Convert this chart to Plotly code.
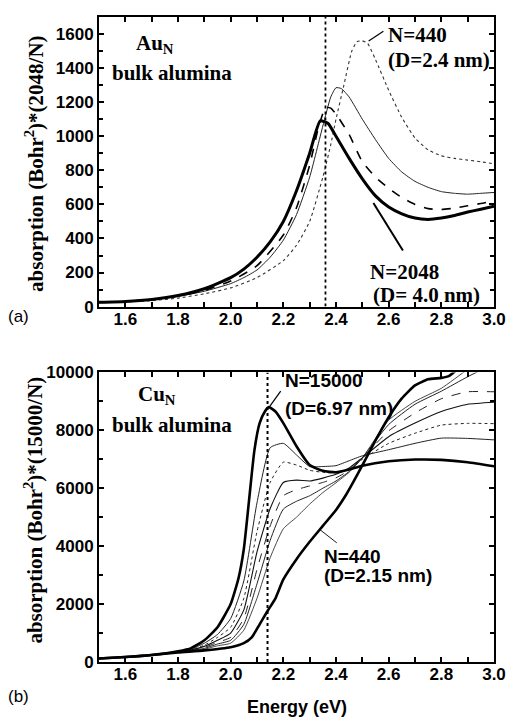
import plotly.graph_objects as go

# ---------------- data: panel (a) Au_N ----------------
au_x_2048 = [1.5, 1.6, 1.7, 1.8, 1.9, 2.0, 2.05, 2.1, 2.15, 2.2, 2.25, 2.3, 2.34, 2.37, 2.4, 2.45, 2.5, 2.55, 2.6, 2.65, 2.7, 2.75, 2.8, 2.85, 2.9, 2.95, 3.0]
au_y_2048 = [25, 30, 42, 65, 105, 170, 220, 290, 380, 500, 680, 900, 1090, 1075, 1000, 870, 750, 650, 585, 545, 520, 512, 520, 535, 555, 572, 590]

au_x_b = [1.5, 1.6, 1.7, 1.8, 1.9, 2.0, 2.05, 2.1, 2.15, 2.2, 2.25, 2.3, 2.35, 2.38, 2.4, 2.42, 2.45, 2.5, 2.55, 2.6, 2.65, 2.7, 2.75, 2.8, 2.85, 2.9, 2.95, 3.0]
au_y_b = [25, 30, 40, 60, 90, 135, 170, 215, 290, 390, 540, 760, 1060, 1230, 1285, 1280, 1230, 1100, 980, 870, 790, 735, 700, 675, 665, 660, 665, 670]

au_x_c = [1.5, 1.6, 1.7, 1.8, 1.9, 2.0, 2.1, 2.2, 2.25, 2.3, 2.33, 2.36, 2.38, 2.4, 2.45, 2.5, 2.55, 2.6, 2.65, 2.7, 2.75, 2.8, 2.85, 2.9, 2.95, 3.0]
au_y_c = [25, 30, 42, 62, 95, 150, 240, 420, 580, 830, 1030, 1170, 1165, 1130, 1010, 850, 760, 695, 640, 600, 575, 570, 578, 592, 605, 620]

au_x_440 = [1.5, 1.6, 1.7, 1.8, 1.9, 2.0, 2.1, 2.2, 2.25, 2.3, 2.35, 2.38, 2.4, 2.43, 2.46, 2.48, 2.5, 2.52, 2.55, 2.6, 2.65, 2.7, 2.75, 2.8, 2.85, 2.9, 2.95, 3.0]
au_y_440 = [25, 28, 35, 50, 75, 110, 170, 270, 360, 500, 760, 950, 1100, 1300, 1500, 1555, 1560, 1545, 1450, 1270, 1110, 990, 920, 885, 870, 860, 850, 838]

# ---------------- data: panel (b) Cu_N ----------------
cu_x = [1.5, 1.6, 1.7, 1.8, 1.85, 1.9, 1.95, 2.0, 2.05, 2.1, 2.15, 2.2, 2.25, 2.3, 2.35, 2.4, 2.45, 2.5, 2.6, 2.7, 2.8, 2.9, 3.0]
cu_c = [120, 170, 240, 360, 450, 650, 950, 1500, 2800, 5500, 7400, 7550, 7150, 6750, 6750, 6780, 6950, 7120, 7330, 7550, 7730, 7720, 7670]
cu_d = [120, 170, 240, 355, 430, 580, 850, 1200, 2200, 4500, 6200, 6900, 6800, 6620, 6550, 6530, 6650, 7000, 7550, 7900, 8180, 8240, 8230]
cu_e = [120, 170, 240, 350, 420, 540, 750, 1000, 1800, 3800, 5300, 6200, 6280, 6250, 6350, 6480, 6700, 7050, 7780, 8250, 8650, 8900, 8970]
cu_f = [120, 170, 240, 345, 410, 500, 680, 850, 1500, 3200, 4700, 5740, 5950, 6080, 6200, 6360, 6620, 7050, 7980, 8600, 9090, 9330, 9330]
cu_g = [120, 170, 240, 340, 400, 470, 620, 750, 1300, 2700, 4200, 5280, 5550, 5740, 6000, 6250, 6580, 7050, 8200, 8900, 9350, 9850, 10300]
cu_h = [120, 170, 240, 335, 390, 440, 560, 650, 1100, 2200, 3600, 4600, 5000, 5450, 5850, 6190, 6550, 7050, 8350, 9000, 9450, 10100, 10600]

cu_x_15000 = [1.5, 1.6, 1.7, 1.8, 1.85, 1.9, 1.95, 2.0, 2.03, 2.05, 2.07, 2.09, 2.11, 2.13, 2.145, 2.17, 2.2, 2.25, 2.3, 2.35, 2.4, 2.45, 2.5, 2.6, 2.7, 2.8, 2.9, 3.0]
cu_15000 = [120, 170, 240, 370, 480, 750, 1200, 2000, 2900, 3900, 5600, 7300, 8250, 8650, 8800, 8650, 8250, 7450, 6800, 6600, 6550, 6650, 6780, 6930, 6990, 6980, 6900, 6760]

cu_x_440 = [1.5, 1.6, 1.7, 1.8, 1.9, 2.0, 2.05, 2.08, 2.11, 2.14, 2.17, 2.2, 2.25, 2.3, 2.35, 2.4, 2.44, 2.48, 2.55, 2.6, 2.65, 2.7, 2.75, 2.8, 2.83, 2.86, 2.9]
cu_440 = [120, 170, 240, 330, 400, 510, 650, 850, 1300, 1760, 2200, 2850, 3550, 4150, 4700, 5250, 5800, 6450, 7650, 8450, 9100, 9550, 9760, 9810, 9880, 10100, 10400]

au_vline = 2.36
cu_vline = 2.14

x_ticks = [1.6, 1.8, 2.0, 2.2, 2.4, 2.6, 2.8, 3.0]

fig = go.Figure()

def add(x, y, width, dash, xa, ya, color="black"):
    fig.add_trace(go.Scatter(x=x, y=y, mode="lines", xaxis=xa, yaxis=ya,
                             line=dict(color=color, width=width, dash=dash, shape="spline", smoothing=0.5),
                             showlegend=False, hoverinfo="skip"))

# panel (a)
add(au_x_440, au_y_440, 1.1, "dot", "x", "y", "#333")
add(au_x_b, au_y_b, 1.0, "solid", "x", "y", "#222")
add(au_x_c, au_y_c, 1.6, "dash", "x", "y")
add(au_x_2048, au_y_2048, 3.0, "solid", "x", "y")

# panel (b)
add(cu_x, cu_h, 0.9, "solid", "x2", "y2", "#333")
add(cu_x, cu_g, 1.0, "solid", "x2", "y2", "#222")
add(cu_x, cu_f, 1.0, "dash", "x2", "y2", "#222")
add(cu_x, cu_e, 1.1, "solid", "x2", "y2", "#111")
add(cu_x, cu_d, 1.0, "dot", "x2", "y2", "#222")
add(cu_x, cu_c, 1.0, "solid", "x2", "y2", "#222")
add(cu_x_15000, cu_15000, 2.6, "solid", "x2", "y2")
add(cu_x_440, cu_440, 2.6, "solid", "x2", "y2")

# vertical dotted reference lines
fig.add_trace(go.Scatter(x=[au_vline, au_vline], y=[0, 1700], mode="lines", xaxis="x", yaxis="y",
                         line=dict(color="black", width=1.8, dash="dot"), showlegend=False, hoverinfo="skip"))
fig.add_trace(go.Scatter(x=[cu_vline, cu_vline], y=[0, 10000], mode="lines", xaxis="x2", yaxis="y2",
                         line=dict(color="black", width=2, dash="dot"), showlegend=False, hoverinfo="skip"))

# pointer lines
fig.add_trace(go.Scatter(x=[2.524, 2.58], y=[1559, 1617], mode="lines", xaxis="x", yaxis="y",
                         line=dict(color="black", width=1.2), showlegend=False, hoverinfo="skip"))
fig.add_trace(go.Scatter(x=[2.542, 2.654], y=[608, 329], mode="lines", xaxis="x", yaxis="y",
                         line=dict(color="black", width=2), showlegend=False, hoverinfo="skip"))
fig.add_trace(go.Scatter(x=[2.147, 2.19], y=[8807, 9350], mode="lines", xaxis="x2", yaxis="y2",
                         line=dict(color="black", width=1.2), showlegend=False, hoverinfo="skip"))
fig.add_trace(go.Scatter(x=[2.336, 2.403], y=[4591, 4114], mode="lines", xaxis="x2", yaxis="y2",
                         line=dict(color="black", width=0.9), showlegend=False, hoverinfo="skip"))

tickfont = dict(family="Liberation Sans", size=17, color="black", weight="bold")
axcommon = dict(showline=True, linecolor="black", linewidth=2, mirror="ticks", ticks="inside",
                ticklen=5, tickwidth=1.5, tickcolor="black", showgrid=False, zeroline=False,
                tickfont=tickfont)

fig.update_layout(
    width=514, height=723,
    margin=dict(l=99, r=15, t=8, b=61),
    plot_bgcolor="white", paper_bgcolor="white",
    xaxis=dict(domain=[0, 1], anchor="y", range=[1.5, 3.0], tickvals=x_ticks,
               ticktext=["%.1f" % v for v in x_ticks], ticklabelstandoff=-4,
               minor=dict(dtick=0.1, ticks="inside", ticklen=5, tickcolor="black", tickwidth=1.5),
               **axcommon),
    yaxis=dict(domain=[0.551, 1.0], anchor="x", range=[0, 1700], dtick=200, tickformat="d",
               minor=dict(dtick=100, ticks="inside", ticklen=4, tickcolor="black", tickwidth=1.5),
               **axcommon),
    xaxis2=dict(domain=[0, 1], anchor="y2", range=[1.5, 3.0], tickvals=x_ticks,
                ticktext=["%.1f" % v for v in x_ticks], ticklabelstandoff=-4,
                minor=dict(dtick=0.1, ticks="inside", ticklen=5, tickcolor="black", tickwidth=1.5),
                **axcommon),
    yaxis2=dict(domain=[0, 0.449], anchor="x2", range=[0, 10000], dtick=2000, tickformat="d",
                minor=dict(dtick=1000, ticks="inside", ticklen=4, tickcolor="black", tickwidth=1.5),
                **axcommon),
)

serif = dict(family="Liberation Serif", size=21, color="black", weight="bold")
sans = dict(family="Liberation Sans", size=19, color="black", weight="bold")

def txt(x, y, s, font, xref="x", yref="y", xanchor="left", angle=0):
    fig.add_annotation(x=x, y=y, xref=xref, yref=yref, text=s, showarrow=False,
                       xanchor=xanchor, yanchor="middle", font=font, textangle=angle)

# panel (a) labels
txt(1.634, 1540, "Au<sub>N</sub>", serif)
txt(1.54, 1374, "bulk alumina", serif)
txt(2.59, 1594, "N=440", serif)
txt(2.59, 1449, "(D=2.4 nm)", serif)
txt(2.523, 201, "N=2048", serif)
txt(2.534, 68, "(D= 4.0 nm)", serif)

# panel (b) labels
txt(1.642, 9230, "Cu<sub>N</sub>", serif, xref="x2", yref="y2")
txt(1.54, 8170, "bulk alumina", serif, xref="x2", yref="y2")
txt(2.198, 9703, "N=15000", sans, xref="x2", yref="y2")
txt(2.198, 8749, "(D=6.97 nm)", sans, xref="x2", yref="y2")
txt(2.347, 3637, "N=440", sans, xref="x2", yref="y2")
txt(2.347, 2989, "(D=2.15 nm)", sans, xref="x2", yref="y2")

# axis titles
title_font = dict(family="Liberation Serif", size=21, color="black", weight="bold")
txt(-0.165, 0.772, "absorption (Bohr<sup>2</sup>)*(2048/N)", title_font,
    xref="paper", yref="paper", xanchor="center", angle=-90)
txt(-0.165, 0.236, "absorption (Bohr<sup>2</sup>)*(15000/N)", title_font,
    xref="paper", yref="paper", xanchor="center", angle=-90)
txt(0.5, -0.070, "Energy (eV)", dict(family="Liberation Sans", size=18, color="black", weight="bold"),
    xref="paper", yref="paper", xanchor="center")

# panel letters
txt(-0.235, 0.536, "(a)", dict(family="Liberation Sans", size=17, color="black"), xref="paper", yref="paper")
txt(-0.235, -0.053, "(b)", dict(family="Liberation Sans", size=17, color="black"), xref="paper", yref="paper")

fig.write_html("out.html")
